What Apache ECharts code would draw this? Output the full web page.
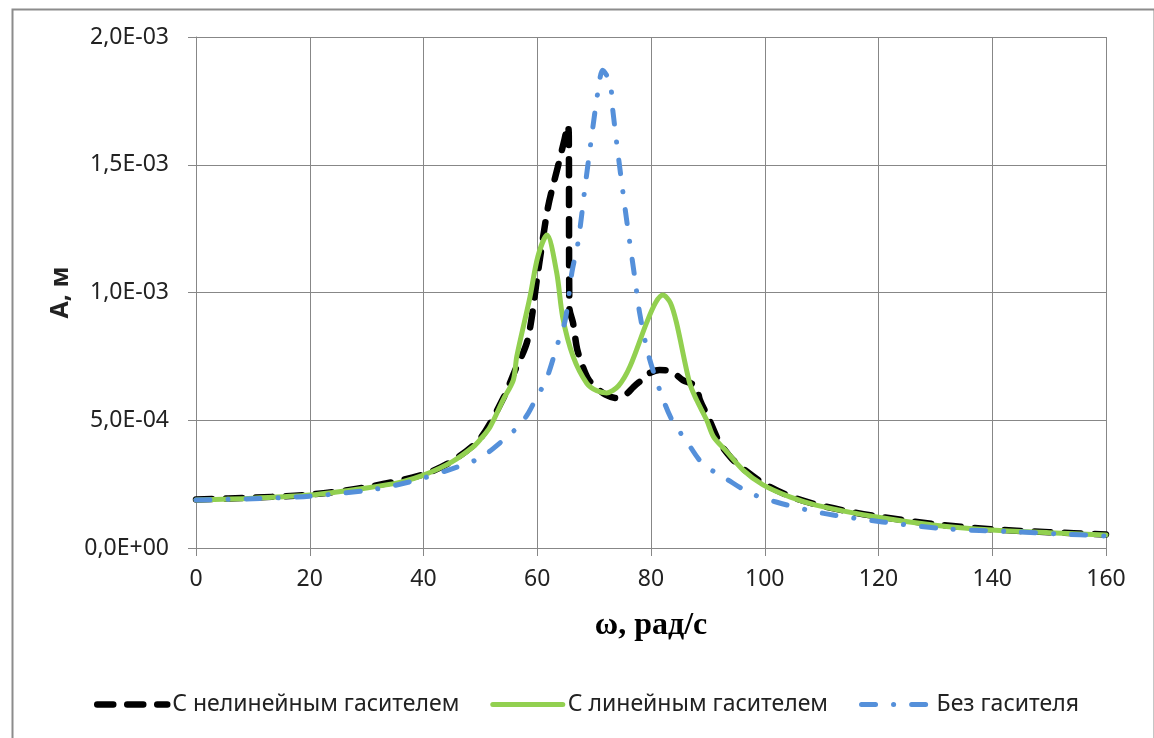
<!DOCTYPE html>
<html>
<head>
<meta charset="utf-8">
<script src="https://cdn.jsdelivr.net/npm/echarts@6/dist/echarts.min.js"></script>
<style>
html,body{margin:0;padding:0;background:#fff;}
#chart{width:1154px;height:738px;}
</style>
</head>
<body>
<div id="chart"></div>
<script>
// ---- Data (ω in рад/с, A in м) ----
const seriesNames = ['С нелинейным гасителем', 'С линейным гасителем', 'Без гасителя'];

const omegaNonlinear = [0, 10, 20, 30, 40, 45, 50, 54, 56, 58.3, 60.1, 61.9, 63.6, 64.8, 65.4, 65.55, 65.65, 66.3, 67, 68, 69, 70.4, 72, 73.9, 75.8, 76.9, 78.5, 79.8, 81.5, 82.8, 84.3, 85.6, 87, 88, 88.6, 90.3, 92, 94, 96.2, 100, 104.4, 109, 115, 120, 130, 140, 150, 160];
const ampNonlinear = [1.90e-4, 1.97e-4, 2.09e-4, 2.38e-4, 2.88e-4, 3.40e-4, 4.30e-4, 5.85e-4, 6.90e-4, 8.14e-4, 10.76e-4, 13.35e-4, 14.90e-4, 16.00e-4, 16.55e-4, 16.10e-4, 9.40e-4, 8.80e-4, 7.80e-4, 7.10e-4, 6.60e-4, 6.28e-4, 6.00e-4, 5.87e-4, 6.05e-4, 6.30e-4, 6.60e-4, 6.85e-4, 6.97e-4, 6.95e-4, 6.80e-4, 6.57e-4, 6.45e-4, 6.31e-4, 5.80e-4, 5.00e-4, 4.15e-4, 3.55e-4, 3.10e-4, 2.50e-4, 2.03e-4, 1.71e-4, 1.42e-4, 1.23e-4, 0.93e-4, 0.73e-4, 0.62e-4, 0.53e-4];

const omegaLinear = [0, 10, 20, 30, 36, 40, 45, 48.7, 50, 51.7, 54, 55.8, 56.4, 58.7, 60.1, 61.7, 63.4, 64.5, 66.3, 68.7, 70.5, 72.2, 74.3, 76.3, 79.2, 80.8, 82.1, 83.4, 84.5, 86.8, 88, 89.8, 91, 93, 96.2, 99.7, 104.4, 109, 119.7, 129.6, 140, 150, 160];
const ampLinear = [1.88e-4, 1.95e-4, 2.07e-4, 2.35e-4, 2.58e-4, 2.85e-4, 3.37e-4, 3.95e-4, 4.25e-4, 4.74e-4, 5.80e-4, 6.58e-4, 7.50e-4, 9.80e-4, 11.40e-4, 12.25e-4, 10.80e-4, 9.00e-4, 7.50e-4, 6.45e-4, 6.15e-4, 6.07e-4, 6.35e-4, 7.10e-4, 8.80e-4, 9.60e-4, 9.90e-4, 9.60e-4, 8.80e-4, 6.45e-4, 5.80e-4, 5.00e-4, 4.35e-4, 3.85e-4, 3.05e-4, 2.47e-4, 2.00e-4, 1.68e-4, 1.21e-4, 0.90e-4, 0.70e-4, 0.60e-4, 0.51e-4];

const omegaFree = [0, 10, 20, 30, 35, 40, 45, 49.9, 53.7, 56.4, 58.2, 59.9, 61.6, 63.6, 64.9, 66.1, 67.2, 68.5, 69.8, 70.7, 71.5, 72.8, 73.3, 74.5, 75.8, 77.2, 78, 79.5, 81.5, 83.7, 86.2, 89.1, 93.3, 97.4, 102, 107.4, 112, 120.7, 131.3, 144.3, 152, 160];
const ampFree = [1.88e-4, 1.93e-4, 2.03e-4, 2.25e-4, 2.45e-4, 2.74e-4, 3.10e-4, 3.52e-4, 4.16e-4, 4.70e-4, 5.20e-4, 5.90e-4, 6.60e-4, 8.00e-4, 8.90e-4, 10.80e-4, 12.00e-4, 14.30e-4, 16.50e-4, 17.90e-4, 18.70e-4, 18.20e-4, 17.10e-4, 14.90e-4, 12.70e-4, 10.50e-4, 9.20e-4, 7.60e-4, 6.20e-4, 5.00e-4, 4.20e-4, 3.30e-4, 2.70e-4, 2.15e-4, 1.80e-4, 1.49e-4, 1.29e-4, 1.02e-4, 0.76e-4, 0.63e-4, 0.55e-4, 0.47e-4];

const xTicks = {min: 0, max: 160, interval: 20};
const yTicks = {min: 0, max: 2e-3, interval: 5e-4};

function pairs(xs, ys){ return xs.map((x, i) => [x, ys[i]]); }

function sciLabel(v){
  if (Math.abs(v) < 1e-12) return '0,0E+00';
  let e = Math.floor(Math.log10(Math.abs(v)) + 1e-9);
  let m = v / Math.pow(10, e);
  let ms = m.toFixed(1).replace('.', ',');
  let es = (e < 0 ? '-' : '+') + String(Math.abs(e)).padStart(2, '0');
  return ms + 'E' + es;
}

const gridColor = '#878787';
const sansFont = "'Noto Sans', 'Open Sans', sans-serif";

const styles = [
  {color: '#000000', width: 6.5, type: [16, 14]},
  {color: '#92D050', width: 5, type: 'solid'},
  {color: '#5590DA', width: 5, type: [14, 18, 0.1, 18]}
];

const chart = echarts.init(document.getElementById('chart'), null, {renderer: 'canvas'});
chart.setOption({
  backgroundColor: '#ffffff',
  animation: false,
  graphic: [{
    type: 'rect',
    left: 10, top: 7,
    shape: {width: 1142, height: 760},
    style: {fill: 'none', stroke: '#8c8c8c', lineWidth: 2},
    silent: true
  }],
  grid: {left: 196, right: 48, top: 37, bottom: 190, containLabel: false},
  legend: {
    left: 89, top: 688,
    itemWidth: 70, itemHeight: 14, itemGap: 31,
    textStyle: {fontFamily: sansFont, fontSize: 23, color: '#222'},
    data: seriesNames.map((n, i) => ({
      name: n,
      itemStyle: {color: 'rgba(0,0,0,0)', borderWidth: 0, opacity: 0},
      lineStyle: {color: styles[i].color, width: styles[i].width, type: styles[i].type, cap: 'round'}
    }))
  },
  xAxis: {
    type: 'value',
    min: xTicks.min, max: xTicks.max, interval: xTicks.interval,
    name: 'ω, рад/с',
    nameLocation: 'middle',
    nameGap: 62,
    nameTextStyle: {fontFamily: "'Liberation Serif', 'Times New Roman', serif", fontWeight: 'bold', fontSize: 32, color: '#000'},
    axisLine: {lineStyle: {color: gridColor, width: 1}},
    axisTick: {show: true, inside: false, length: 8, lineStyle: {color: gridColor}},
    axisLabel: {fontFamily: sansFont, fontSize: 23, color: '#222', margin: 20},
    splitLine: {show: true, lineStyle: {color: gridColor, width: 1}}
  },
  yAxis: {
    type: 'value',
    min: yTicks.min, max: yTicks.max, interval: yTicks.interval,
    name: 'А, м',
    nameLocation: 'middle',
    nameGap: 122,
    nameRotate: 90,
    nameTextStyle: {fontFamily: sansFont, fontWeight: 'bold', fontSize: 25, color: '#222'},
    axisLine: {show: true, lineStyle: {color: gridColor, width: 1}},
    axisTick: {show: true, inside: false, length: 8, lineStyle: {color: gridColor}},
    axisLabel: {fontFamily: sansFont, fontSize: 23, color: '#222', margin: 27, formatter: sciLabel},
    splitLine: {show: true, lineStyle: {color: gridColor, width: 1}}
  },
  series: [0, 1, 2].map(i => ({
    name: seriesNames[i], type: 'line',
    data: pairs([omegaNonlinear, omegaLinear, omegaFree][i], [ampNonlinear, ampLinear, ampFree][i]),
    smooth: 0.3, symbol: 'none', showSymbol: false, z: 2 + i,
    lineStyle: {color: styles[i].color, width: styles[i].width, type: styles[i].type, cap: 'round', join: 'round'},
    itemStyle: {color: styles[i].color}
  }))
});
</script>
</body>
</html>
